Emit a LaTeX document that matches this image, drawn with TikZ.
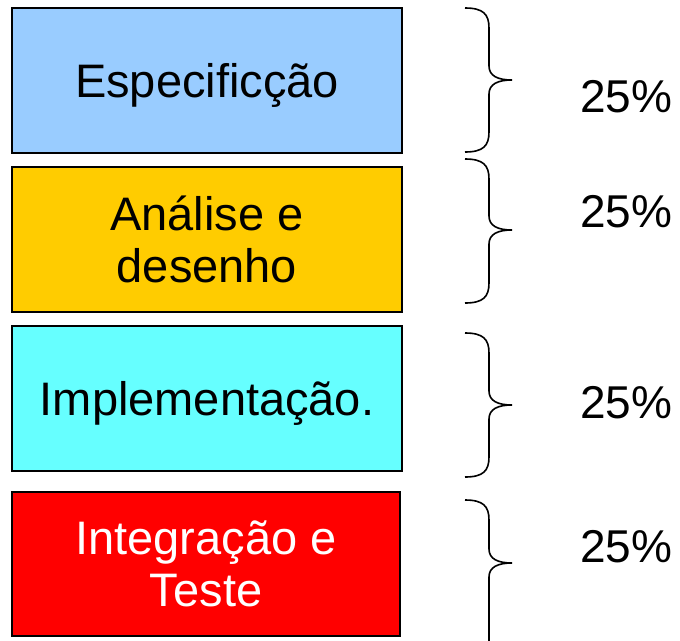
\documentclass[tikz,border=0pt]{standalone}
\usepackage{fontspec}
\setmainfont{Liberation Sans}
\definecolor{cblue}{HTML}{99CCFF}
\definecolor{cyellow}{HTML}{FFCC00}
\definecolor{ccyan}{HTML}{66FFFF}
\definecolor{cred}{HTML}{FF0000}
\begin{document}
\begin{tikzpicture}[x=1pt,y=-1pt,
  phase/.style={draw=black,line width=1.6pt,inner sep=0pt,align=center,
    font=\fontsize{47}{52}\selectfont},
  oneline/.style={text depth=0pt},
  pct/.style={anchor=base west,inner sep=0pt,font=\fontsize{46}{52}\selectfont},
  bracepath/.style={line width=1.6pt}]
\useasboundingbox (0,0) rectangle (680,640);
\clip (0,0) rectangle (680,640);
\node[phase,oneline,fill=cblue,minimum width=390pt,minimum height=145pt] (b1) at (207,80.5) {Especificção};
\node[phase,fill=cyellow,minimum width=390pt,minimum height=145pt] (b2) at (207,239.5) {Análise e\\desenho};
\node[phase,oneline,fill=ccyan,minimum width=390pt,minimum height=145pt] (b3) at (207,398.5) {Implementação.};
\node[phase,fill=cred,text=white,minimum width=388pt,minimum height=144pt] (b4) at (206,564) {Integração e\\Teste};
\node[pct] (p1) at (580,112) {25\%};
\node[pct] (p2) at (580,227) {25\%};
\node[pct] (p3) at (580,418) {25\%};
\node[pct] (p4) at (580,562) {25\%};
% braces
\foreach \ya/\ym/\yb in {8/80/152, 159/230/303, 333/405/477, 500/563/660}{
  \draw[bracepath] (465,\ya) .. controls (483,\ya) and (489,\ya+6) .. (489,\ya+20)
    -- (489,\ym-14) .. controls (489,\ym-4) and (498,\ym) .. (512,\ym)
    .. controls (498,\ym) and (489,\ym+4) .. (489,\ym+14)
    -- (489,\yb-20) .. controls (489,\yb-6) and (483,\yb) .. (465,\yb);
}
\end{tikzpicture}
\end{document}
